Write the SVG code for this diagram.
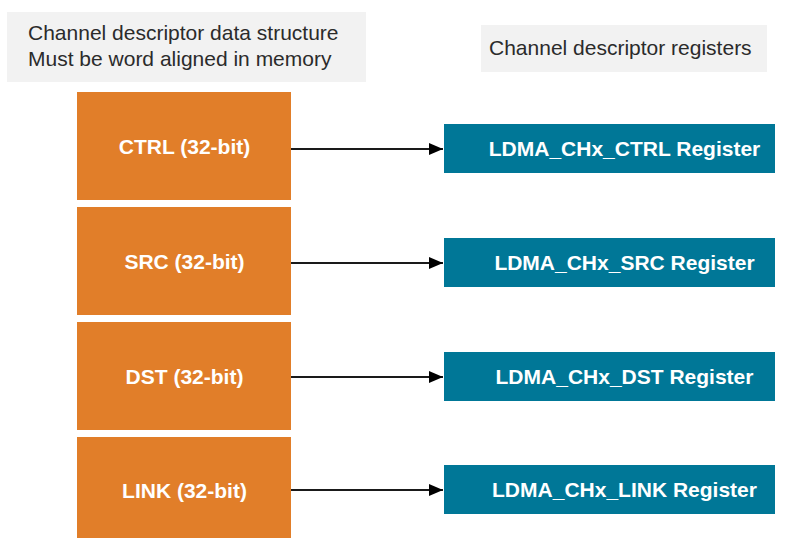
<svg xmlns="http://www.w3.org/2000/svg" width="790" height="538" viewBox="0 0 790 538">
  <style>
    .caption { fill: #f2f2f2; }
    .caption-text { font-family: "Liberation Sans", Arial, sans-serif; font-size: 21px; fill: #2b2b2b; }
    .field { fill: #e17e29; }
    .reg { fill: #007797; }
    .label { font-family: "Liberation Sans", Arial, sans-serif; font-size: 21px; font-weight: bold; fill: #ffffff; text-anchor: middle; }
    .link { stroke: #1a1a1a; stroke-width: 2; fill: none; }
  </style>
  <defs>
    <marker id="arrow" markerWidth="14" markerHeight="12" refX="14" refY="6" orient="auto" markerUnits="userSpaceOnUse" viewBox="0 0 14 12">
      <path d="M0,0 L14,6 L0,12 z" fill="#000"/>
    </marker>
  </defs>

  <rect width="790" height="538" fill="#ffffff"/>

  <g id="caption-descriptor">
    <rect class="caption" x="7" y="12" width="359" height="70"/>
    <text class="caption-text" x="28" y="40">Channel descriptor data structure</text>
    <text class="caption-text" x="28" y="66">Must be word aligned in memory</text>
  </g>
  <g id="caption-registers">
    <rect class="caption" x="481" y="25" width="286" height="47"/>
    <text class="caption-text" x="489" y="55">Channel descriptor registers</text>
  </g>

  <g id="field-ctrl">
    <rect class="field" x="77" y="92" width="214" height="108"/>
    <text class="label" x="184.5" y="154">CTRL (32-bit)</text>
  </g>
  <g id="field-src">
    <rect class="field" x="77" y="207" width="214" height="108"/>
    <text class="label" x="184.5" y="269">SRC (32-bit)</text>
  </g>
  <g id="field-dst">
    <rect class="field" x="77" y="322" width="214" height="108"/>
    <text class="label" x="184.5" y="384">DST (32-bit)</text>
  </g>
  <g id="field-link">
    <rect class="field" x="77" y="437" width="214" height="108"/>
    <text class="label" x="184.5" y="498">LINK (32-bit)</text>
  </g>

  <g id="reg-ctrl">
    <rect class="reg" x="444" y="124" width="331" height="49"/>
    <text class="label" x="624.5" y="156">LDMA_CHx_CTRL Register</text>
  </g>
  <g id="reg-src">
    <rect class="reg" x="444" y="238" width="331" height="49"/>
    <text class="label" x="624.5" y="270">LDMA_CHx_SRC Register</text>
  </g>
  <g id="reg-dst">
    <rect class="reg" x="444" y="352" width="331" height="49"/>
    <text class="label" x="624.5" y="384">LDMA_CHx_DST Register</text>
  </g>
  <g id="reg-link">
    <rect class="reg" x="444" y="465" width="331" height="49"/>
    <text class="label" x="624.5" y="497">LDMA_CHx_LINK Register</text>
  </g>

  <g id="connectors">
    <line class="link" x1="291" y1="149" x2="443" y2="149" marker-end="url(#arrow)"/>
    <line class="link" x1="291" y1="263" x2="443" y2="263" marker-end="url(#arrow)"/>
    <line class="link" x1="291" y1="377" x2="443" y2="377" marker-end="url(#arrow)"/>
    <line class="link" x1="291" y1="490" x2="443" y2="490" marker-end="url(#arrow)"/>
  </g>
</svg>
